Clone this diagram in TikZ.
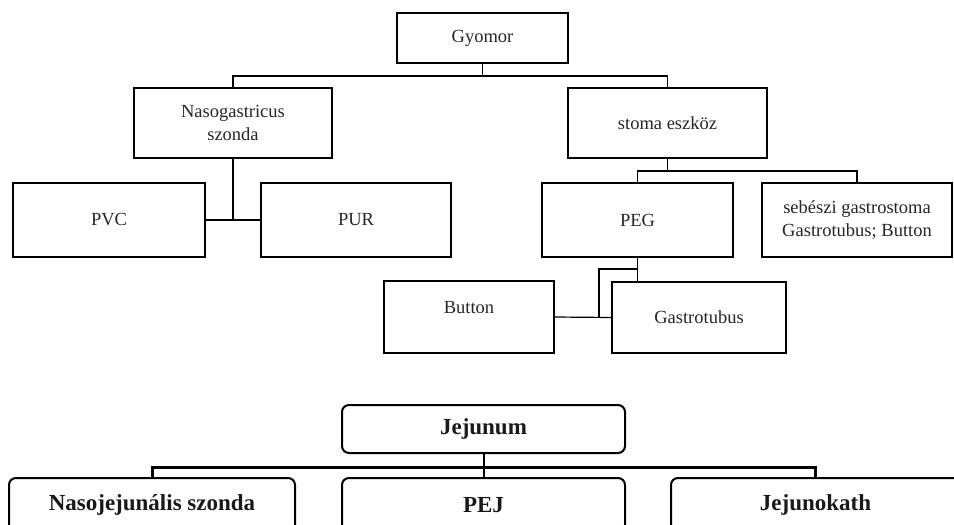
\documentclass[tikz,border=0pt]{standalone}
\usepackage{fontspec}
\setmainfont{Liberation Serif}

\begin{document}
\begin{tikzpicture}[x = 1pt, y = -1pt,
	box/.style = {draw, line width = 1.2pt, inner sep = 0pt, align = center, text = black!85, font = \fontsize{18.5}{23}\selectfont},
	rbox/.style = {draw, line width = 2pt, rounded corners = 7pt, inner sep = 0pt, font = \fontsize{23}{26}\selectfont\bfseries, text = black!90}]
	\useasboundingbox (0,0) rectangle (954,525);
	\clip (0,0) rectangle (954,525);

	% gyomor
	\node[box, minimum width = 171pt, minimum height = 50pt] (gyomor) at (482.5,38) {Gyomor};
	\node[box, minimum width = 198pt, minimum height = 70pt] (naso) at (233,123) {Nasogastricus\\szonda};
	\node[box, minimum width = 199pt, minimum height = 70pt] (stoma) at (667.5,123) {stoma eszköz};
	\node[box, minimum width = 192pt, minimum height = 74pt] (pvc) at (109,220) {PVC};
	\node[box, minimum width = 190pt, minimum height = 74pt] (pur) at (356,220) {PUR};
	\node[box, minimum width = 191pt, minimum height = 74pt] (peg) at (637.5,220) {PEG};
	\node[box, minimum width = 190pt, minimum height = 74pt] (sebeszi) at (857,220) {sebészi gastrostoma\\Gastrotubus; Button};
	\node[box, minimum width = 170pt, minimum height = 72pt] (button) at (469,317) {\raisebox{9pt}[\height][\depth]{Button}};
	\node[box, minimum width = 174pt, minimum height = 71pt] (gastro) at (699,317.5) {Gastrotubus};

	\coordinate (gbus) at (482.5,76);
	\coordinate (sbus) at (667.5,171);
	\coordinate (pk) at (637.5,269);
	\coordinate (pj) at (599,317.5);

	\draw[line width = 1.2pt] (gyomor.south) -- (gbus);
	\draw[line width = 1.2pt] (naso.north) |- (gbus) -| (stoma.north);
	\draw[line width = 1.2pt] (naso.south) -- (naso.south |- pvc.east);
	\draw[line width = 1.2pt] (pvc.east) -- (pur.west);
	\draw[line width = 1.2pt] (stoma.south) -- (sbus);
	\draw[line width = 1.2pt] (peg.north) |- (sbus) -| (sebeszi.north);
	\draw[line width = 1.2pt] (peg.south) -- (peg.south |- gastro.north);
	\draw[line width = 1.2pt] (pk) -| (pj);
	\draw[line width = 1.2pt] (button.east) -- (gastro.west);

	% jejunum
	\node[rbox, minimum width = 283pt, minimum height = 48pt] (jejunum) at (483.5,429) {Jejunum};
	\node[rbox, minimum width = 286pt, minimum height = 54pt] (nasojej) at (152,505) {Nasojejunális szonda};
	\node[rbox, minimum width = 283pt, minimum height = 54pt] (pej) at (483.5,505) {PEJ};
	\node[rbox, minimum width = 289pt, minimum height = 54pt] (jejunokath) at (815.5,505) {Jejunokath};

	\coordinate (jbus) at (483.5,467);
	\draw[line width = 2pt] (jejunum.south) -- (jbus);
	\draw[line width = 3pt] (nasojej.north) |- (jbus) -| (jejunokath.north);
	\draw[line width = 2pt] (jbus) -- (pej.north);
\end{tikzpicture}
\end{document}
